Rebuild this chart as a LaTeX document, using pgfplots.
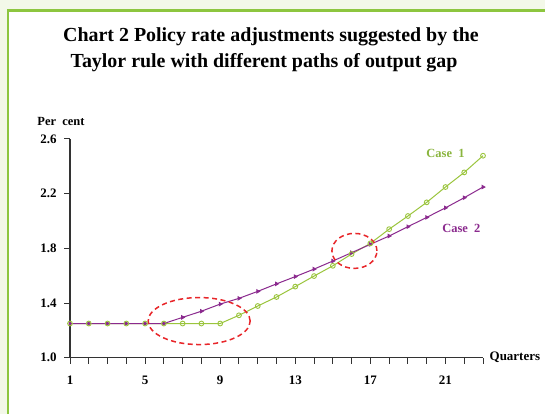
\documentclass[border=0pt]{standalone}
\usepackage{fontspec}
\setmainfont{Liberation Serif}
\usepackage{pgfplots}
\pgfplotsset{compat=1.18}
\definecolor{bggreen}{HTML}{F3F8E8}
\definecolor{framegreen}{HTML}{8DC63F}
\definecolor{casegreen}{HTML}{9BC53D}
\definecolor{labgreen}{HTML}{8AB53E}
\definecolor{casepurple}{HTML}{8B2A8E}
\definecolor{ellred}{HTML}{E8262A}
\begin{document}
\begin{tikzpicture}[x=1bp,y=1bp]
\path[use as bounding box] (0,0) rectangle (545,414);
\fill[bggreen] (0,0) rectangle (545,414);
\fill[white] (8,0) rectangle (545,403.5);
\draw[framegreen, line width=2.5bp] (7.8,0) -- (7.8,403.5) -- (545,403.5);
\node[font=\bfseries\fontsize{20}{24}\selectfont, anchor=base] at (271,373) {Chart 2 Policy rate adjustments suggested by the};
\node[font=\bfseries\fontsize{20}{24}\selectfont, anchor=base] at (264,347) {Taylor rule with different paths of output gap};
\node[font=\bfseries\fontsize{12.5}{14}\selectfont, anchor=base] at (61,289) {Per\ \ cent};
\begin{axis}[
  at={(70bp,56.3bp)}, anchor=south west,
  scale only axis, width=413bp, height=218.8bp,
  xmin=1, xmax=23, ymin=1, ymax=2.6,
  axis lines*=left,
  axis line style={line width=1.2bp, black!80},
  tick style={line width=1bp, black!80},
  tick align=outside,
  major tick length=6bp, minor tick length=6bp,
  xtick={1,5,9,13,17,21},
  minor xtick={1,...,23},
  ytick={1.0,1.4,1.8,2.2,2.6},
  yticklabel style={/pgf/number format/fixed, /pgf/number format/fixed zerofill, /pgf/number format/precision=1, xshift=-4bp},
  /pgf/number format/assume math mode=true,
  ticklabel style={font=\bfseries\fontsize{13}{15}\selectfont},
  xticklabel style={yshift=-9bp},
  clip=false,
]
\addplot[casegreen, line width=1bp, forget plot] coordinates {
(1,1.25)(2,1.25)(3,1.25)(4,1.25)(5,1.25)(6,1.25)(7,1.25)(8,1.25)(9,1.25)
(10,1.31)(11,1.378)(12,1.444)(13,1.52)(14,1.597)(15,1.672)(16,1.758)
(17,1.836)(18,1.94)(19,2.036)(20,2.136)(21,2.248)(22,2.355)(23,2.477)};
\addplot[casepurple, line width=1bp, mark=triangle*, mark size=1.8bp, mark options={rotate=-90}] coordinates {
(1,1.25)(2,1.25)(3,1.25)(4,1.25)(5,1.25)(6,1.25)(7,1.295)(8,1.34)(9,1.392)
(10,1.434)(11,1.485)(12,1.54)(13,1.593)(14,1.648)(15,1.707)(16,1.768)
(17,1.829)(18,1.89)(19,1.958)(20,2.026)(21,2.096)(22,2.17)(23,2.248)};
\addplot[only marks, casegreen, mark=o, mark size=2.4bp, mark options={fill=white, line width=0.9bp}] coordinates {
(1,1.25)(2,1.25)(3,1.25)(4,1.25)(5,1.25)(6,1.25)(7,1.25)(8,1.25)(9,1.25)
(10,1.31)(11,1.378)(12,1.444)(13,1.52)(14,1.597)(15,1.672)(16,1.758)
(17,1.836)(18,1.94)(19,2.036)(20,2.136)(21,2.248)(22,2.355)(23,2.477)};
\draw[ellred, line width=1.5bp, dash pattern=on 5bp off 3.5bp] (axis cs:7.88,1.268) ellipse [x radius=51bp, y radius=23.5bp];
\draw[ellred, line width=1.5bp, dash pattern=on 5bp off 3.5bp] (axis cs:16.15,1.781) ellipse [x radius=22.5bp, y radius=17.5bp];
\node[labgreen, font=\bfseries\fontsize{12.5}{14}\selectfont] at (axis cs:21,2.496) {Case\ \ 1};
\node[casepurple, font=\bfseries\fontsize{12.5}{14}\selectfont] at (axis cs:21.85,1.948) {Case\ \ 2};
\node[font=\bfseries\fontsize{13}{15}\selectfont, anchor=west, inner sep=0pt] at (axis cs:23,1.0) {\ \ Quarters};
\end{axis}
\end{tikzpicture}
\end{document}
